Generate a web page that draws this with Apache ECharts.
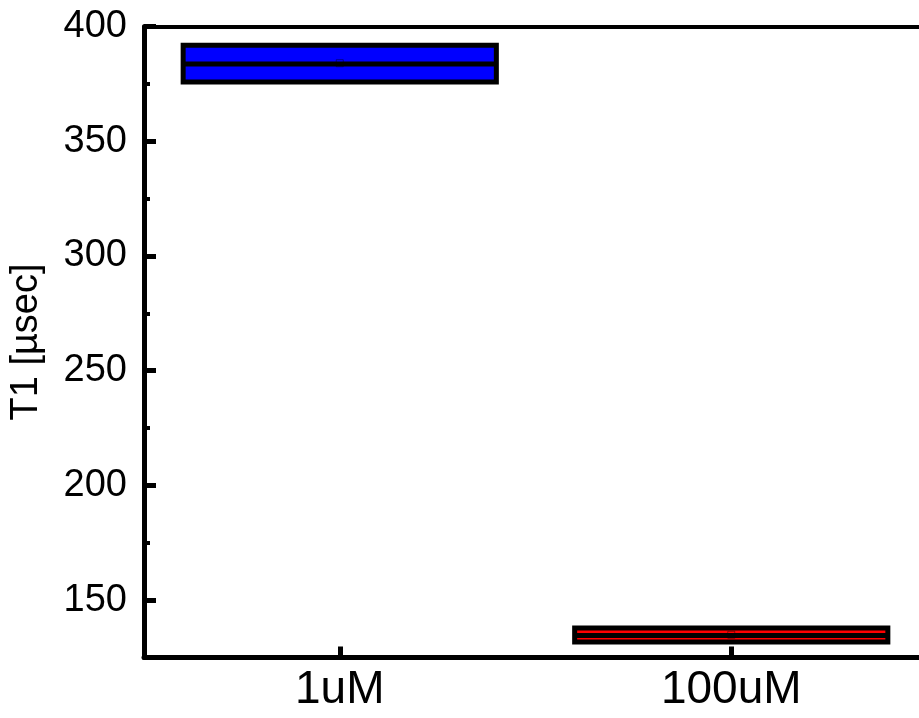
<!DOCTYPE html>
<html>
<head>
<meta charset="utf-8">
<script src="https://cdn.jsdelivr.net/npm/echarts@6/dist/echarts.min.js"></script>
<style>html,body{margin:0;padding:0;background:#fff}#c{width:919px;height:718px}</style>
</head>
<body>
<div id="c"></div>
<script>
var categories = ['1uM', '100uM'];
// [min, Q1, median, Q3, max]
var boxValues = [
  [375.8, 375.8, 383.7, 391.8, 391.8],
  [131.8, 131.8, 134.6, 137.9, 137.9]
];
var meanValues = [384.0, 134.9];
var boxColors = ['#0000FF', '#FF0000'];
var yMajorTicks = [150, 200, 250, 300, 350, 400];
var yMinorTicks = [175, 225, 275, 325, 375];
var yMin = 125, yMax = 400;

var chart = echarts.init(document.getElementById('c'), null, {renderer: 'canvas'});
var font = 'Liberation Sans, Arial, sans-serif';
chart.setOption({
  animation: false,
  backgroundColor: '#ffffff',
  grid: {left: 144, top: 26.5, width: 783, bottom: 60.5, containLabel: false, outerBoundsMode: 'none'},
  xAxis: [{
    type: 'category',
    data: categories,
    position: 'bottom',
    axisLine: {show: true, lineStyle: {color: '#000', width: 5}},
    axisTick: {show: true, inside: true, alignWithLabel: true, length: 11, lineStyle: {color: '#000', width: 5}},
    axisLabel: {show: true, color: '#000', fontSize: 46, fontFamily: font, margin: 10},
    splitLine: {show: false}
  }, {
    type: 'category',
    data: categories,
    position: 'top',
    axisLine: {show: true, lineStyle: {color: '#000', width: 4}},
    axisTick: {show: false},
    axisLabel: {show: false},
    splitLine: {show: false}
  }],
  yAxis: [{
    type: 'value',
    min: yMin, max: yMax,
    position: 'left',
    name: 'T1 [µsec]',
    nameLocation: 'middle',
    nameGap: 98,
    nameTextStyle: {color: '#000', fontSize: 38, fontFamily: font},
    axisLine: {show: true, lineStyle: {color: '#000', width: 5}},
    axisTick: {show: true, inside: true, length: 12, customValues: yMajorTicks, lineStyle: {color: '#000', width: 5}},
    axisLabel: {show: true, color: '#000', fontSize: 38, fontFamily: font, margin: 17, customValues: yMajorTicks},
    splitLine: {show: false}
  }, {
    type: 'value',
    min: yMin, max: yMax,
    position: 'left',
    axisLine: {show: false},
    axisTick: {show: true, inside: true, length: 6, customValues: yMinorTicks, lineStyle: {color: '#000', width: 4}},
    axisLabel: {show: false},
    splitLine: {show: false}
  }],
  series: [{
    type: 'boxplot',
    xAxisIndex: 0,
    yAxisIndex: 0,
    boxWidth: ['80%', '80%'],
    itemStyle: {borderColor: '#000', borderWidth: 5},
    data: boxValues.map(function (v, i) {
      return {value: v, itemStyle: {color: boxColors[i], borderColor: '#000', borderWidth: 5}};
    }),
    emphasis: {disabled: true}
  }, {
    type: 'scatter',
    xAxisIndex: 0,
    yAxisIndex: 0,
    symbol: 'rect',
    symbolSize: 7,
    data: meanValues.map(function (v, i) { return [categories[i], v]; }),
    itemStyle: {color: 'rgba(0,0,0,0)', borderColor: 'rgba(0,0,0,0.55)', borderWidth: 1},
    z: 5,
    emphasis: {disabled: true}
  }]
});
</script>
</body>
</html>
